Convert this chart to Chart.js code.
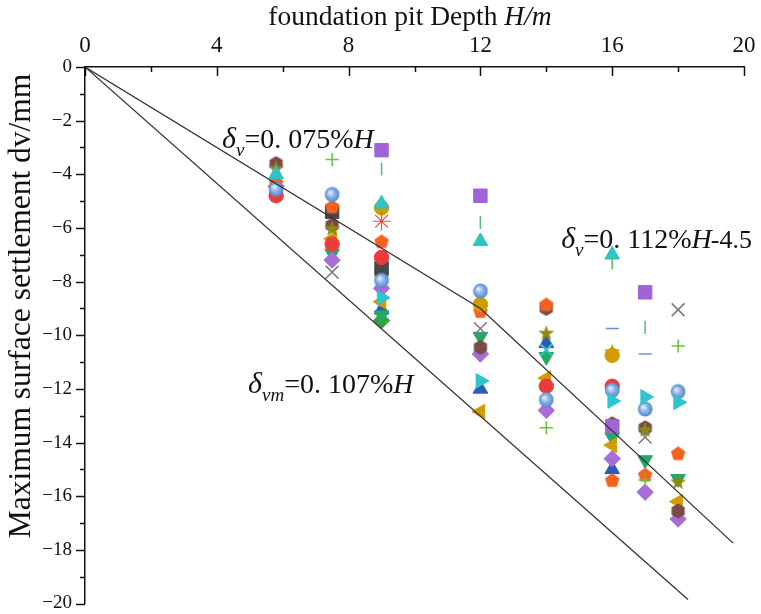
<!DOCTYPE html>
<html>
<head>
<meta charset="utf-8">
<script src="https://cdn.jsdelivr.net/npm/chart.js@4.4.0/dist/chart.umd.min.js"></script>
<style>
  html, body { margin: 0; padding: 0; background: #fff; }
</style>
</head>
<body>
<canvas id="settle" width="761" height="614"></canvas>
<script>
// excavation depth (m) vs maximum surface settlement (mm)
var xTicks = [0, 4, 8, 12, 16, 20];
var yTicks = [0, -2, -4, -6, -8, -10, -12, -14, -16, -18, -20];

var squarePurple = [[9, -3.1], [12, -4.8], [16, -13.4], [17, -8.4]];
var circleRed = [[5.8, -4.8], [7.5, -6.6], [9, -7.1], [14, -11.9], [16, -11.9]];
var triUpCyan = [[5.8, -4.0], [9, -5.1], [12, -6.5], [16, -7.0]];
var triDownGreen = [[7.5, -6.95], [9, -9.25], [12, -10.05], [14, -10.8], [16, -13.8], [17, -14.65], [18, -15.35]];
var diamondPurple = [[5.8, -4.45], [7.5, -7.2], [9, -8.25], [12, -10.7], [14, -12.8], [16, -14.6], [17, -15.85], [18, -16.85]];
var triLeftGold = [[7.5, -6.4], [9, -8.75], [12, -12.85], [14, -11.6], [16, -14.1], [18, -16.2]];
var triRightCyan = [[9, -8.6], [12, -11.7], [16, -12.45], [17, -12.3], [18, -12.5]];
var hexBrown = [[5.8, -3.6], [7.5, -5.9], [9, -7.7], [12, -10.45], [14, -9.0], [16, -13.3], [17, -13.45], [18, -16.55]];
var starOlive = [[5.8, -3.75], [7.5, -6.0], [14, -9.9], [16, -10.6], [17, -13.5], [18, -15.45]];
var pentOrange = [[5.8, -4.3], [7.5, -5.2], [9, -6.5], [12, -9.1], [14, -8.85], [16, -15.4], [17, -15.2], [18, -14.4]];
var sphereBlue = [[5.8, -4.55], [7.5, -4.75], [9, -7.95], [12, -8.35], [14, -12.4], [16, -12.05], [17, -12.75], [18, -12.1]];
var crossGray = [[7.5, -7.65], [12, -9.75], [17, -13.8], [18, -9.05]];
var plusGreen = [[7.5, -3.45], [14, -13.45], [17, -15.4], [18, -10.4]];
var dashBlue = [[16, -9.75], [17, -10.7]];
var barGreen = [[9, -3.8], [12, -5.8], [16, -7.3], [17, -9.7]];
var asteriskRed = [[9, -5.75]];
var squareDark = [[7.5, -5.4], [9, -7.5]];
var triUpBlue = [[9, -9.05], [12, -12.0], [14, -10.3], [16, -15.0]];
var circleGold = [[9, -5.25], [12, -8.85], [16, -10.75]];
var diamondGreen = [[9, -9.45]];
var crossCyan = [[14, -10.55]];

// fitted envelope lines
var lineUpper = [[0, 0], [12, -9], [19.67, -17.75]];
var lineLower = [[0, 0], [18.3, -19.85]];

function pts(a) {
  return a.map(function (p) { return { x: p[0], y: p[1] }; });
}

// small canvases for marker shapes chart.js does not have
function shape(kind, color) {
  var s = 18, c = document.createElement('canvas');
  c.width = s; c.height = s;
  var g = c.getContext('2d'), r = 7.6, cx = s / 2, cy = s / 2, i, a;
  g.fillStyle = color;
  g.beginPath();
  if (kind === 'hex') {
    for (i = 0; i < 6; i++) {
      a = -Math.PI / 2 + i * Math.PI / 3;
      g.lineTo(cx + r * Math.cos(a), cy + r * Math.sin(a));
    }
  } else if (kind === 'pent') {
    for (i = 0; i < 5; i++) {
      a = -Math.PI / 2 + i * 2 * Math.PI / 5;
      g.lineTo(cx + r * Math.cos(a), cy + 0.7 + r * Math.sin(a));
    }
  } else if (kind === 'star') {
    for (i = 0; i < 10; i++) {
      a = -Math.PI / 2 + i * Math.PI / 5;
      var rr = i % 2 ? r * 0.45 : r + 0.8;
      g.lineTo(cx + rr * Math.cos(a), cy + 0.9 + rr * Math.sin(a));
    }
  } else if (kind === 'sphere') {
    var grd = g.createRadialGradient(cx - 2.2, cy - 2.2, 0.5, cx, cy, r);
    grd.addColorStop(0, '#e6f0fb');
    grd.addColorStop(0.45, '#8fb6e6');
    grd.addColorStop(1, color);
    g.fillStyle = grd;
    g.arc(cx, cy, r - 0.2, 0, Math.PI * 2);
  }
  g.closePath();
  g.fill();
  return c;
}

function series(data, style, color, opt) {
  var d = {
    data: pts(data),
    pointStyle: style,
    pointRadius: 7,
    pointBackgroundColor: color,
    pointBorderColor: color,
    pointBorderWidth: 1,
    showLine: false
  };
  for (var k in (opt || {})) d[k] = opt[k];
  return d;
}

var datasets = [
  { data: pts(lineUpper), type: 'line', borderColor: '#333', borderWidth: 1.3, pointRadius: 0, fill: false, order: -1 },
  { data: pts(lineLower), type: 'line', borderColor: '#333', borderWidth: 1.3, pointRadius: 0, fill: false, order: -1 },
  series(plusGreen, 'cross', '#68c23a', { pointBorderWidth: 1.5, pointRadius: 6.5 }),
  series(crossGray, 'crossRot', '#7a7a7a', { pointBorderWidth: 1.5, pointRadius: 9 }),
  series(crossCyan, 'crossRot', '#31bfc2', { pointBorderWidth: 2.2, pointRadius: 8 }),
  series(dashBlue, 'line', '#6d8edc', { pointBorderWidth: 1.6, pointRadius: 6.5 }),
  series(barGreen, 'line', '#5bbf7c', { pointBorderWidth: 1.6, pointRadius: 6.5, pointRotation: 90 }),
  series(asteriskRed, 'star', '#f04848', { pointBorderWidth: 1.2, pointRadius: 9 }),
  series(squarePurple, 'rect', '#a064d8', { pointRadius: 9.5 }),
  series(triUpCyan, 'triangle', '#2ec3c6', { pointRadius: 8.5 }),
  series(triRightCyan, 'triangle', '#2cc6cc', { pointRadius: 8.5, pointRotation: 90 }),
  series(sphereBlue, shape('sphere', '#4f86d2'), '#4f86d2'),
  series(circleGold, 'circle', '#d29c00', { pointRadius: 7.2 }),
  series(pentOrange, shape('pent', '#f4621e'), '#f4621e'),
  series(starOlive, shape('star', '#8d8a12'), '#8d8a12'),
  series(circleRed, 'circle', '#ec3b3b', { pointRadius: 7.2 }),
  series(squareDark, 'rect', '#474747', { pointRadius: 9.5 }),
  series(hexBrown, shape('hex', '#7b4a47'), '#7b4a47'),
  series(triLeftGold, 'triangle', '#d29c00', { pointRadius: 8.5, pointRotation: 270 }),
  series(diamondPurple, 'rectRot', '#a66ed6', { pointRadius: 8.2 }),
  series(triDownGreen, 'triangle', '#24a865', { pointRadius: 8.5, pointRotation: 180 }),
  series(triUpBlue, 'triangle', '#2d5cb8', { pointRadius: 8.5 }),
  series(diamondGreen, 'rectRot', '#37a23a', { pointRadius: 8.2 })
];

// draw a run of text pieces with mixed style and subscripts
function richText(ctx, x, y, parts) {
  parts.forEach(function (p) {
    ctx.font = p.font;
    ctx.fillText(p.t, x, y + (p.dy || 0));
    x += ctx.measureText(p.t).width + (p.gap || 0);
  });
}

function measureRich(ctx, parts) {
  var w = 0;
  parts.forEach(function (p) { ctx.font = p.font; w += ctx.measureText(p.t).width + (p.gap || 0); });
  return w;
}

var SERIF = '"Liberation Serif", "Times New Roman", serif';

function eqParts(sub, rest, tail) {
  var parts = [
    { t: 'δ', font: 'italic 30px ' + SERIF },
    { t: sub, font: 'italic 19px ' + SERIF, dy: 8 },
    { t: rest, font: '28px ' + SERIF },
    { t: 'H', font: 'italic 28px ' + SERIF, gap: -1 }
  ];
  if (tail) parts.push({ t: tail, font: '26px ' + SERIF });
  return parts;
}

var annotations = [
  { x: 4.16, y: -3.02, parts: eqParts('v', '=0. 075%') },
  { x: 14.45, y: -6.75, parts: eqParts('v', '=0. 112%', '-4.5') },
  { x: 4.95, y: -12.16, parts: eqParts('vm', '=0. 107%') }
];

var axisDecor = {
  id: 'axisDecor',
  afterDraw: function (chart) {
    var ctx = chart.ctx, xs = chart.scales.x, ys = chart.scales.y;
    var top = ys.getPixelForValue(0), left = xs.getPixelForValue(0);
    var v, p, len;
    ctx.save();
    ctx.strokeStyle = '#111';
    ctx.lineWidth = 1.5;
    ctx.beginPath();
    // top axis ticks point down into the plot
    for (v = 0; v <= 20; v += 2) {
      p = Math.round(xs.getPixelForValue(v)) + 0.5;
      len = v % 4 === 0 ? 9 : 5;
      ctx.moveTo(p, top); ctx.lineTo(p, top + len);
    }
    // left axis ticks point outward
    for (v = 0; v >= -20; v -= 1) {
      p = Math.round(ys.getPixelForValue(v)) + 0.5;
      len = v % 2 === 0 ? 9 : 5;
      ctx.moveTo(left - len, p); ctx.lineTo(left, p);
    }
    ctx.stroke();

    ctx.fillStyle = '#111';
    ctx.textBaseline = 'alphabetic';

    // x axis title
    var xt = [
      { t: 'foundation pit Depth ', font: '27.5px ' + SERIF },
      { t: 'H/m', font: 'italic 27.5px ' + SERIF }
    ];
    richText(ctx, 410 - measureRich(ctx, xt) / 2, 25, xt);

    // y axis title
    ctx.save();
    ctx.translate(30, 306);
    ctx.rotate(-Math.PI / 2);
    ctx.font = '31.5px ' + SERIF;
    ctx.textAlign = 'center';
    ctx.fillText('Maximum surface settlement dv/mm', 0, 0);
    ctx.restore();

    // equation labels next to the lines
    annotations.forEach(function (a) {
      richText(ctx, xs.getPixelForValue(a.x), ys.getPixelForValue(a.y), a.parts);
    });
    ctx.restore();
  }
};

new Chart(document.getElementById('settle'), {
  type: 'scatter',
  data: { datasets: datasets },
  options: {
    responsive: false,
    animation: false,
    layout: { padding: { left: 0, right: 17, top: 0, bottom: 10 } },
    plugins: { legend: { display: false }, tooltip: { enabled: false } },
    scales: {
      x: {
        type: 'linear',
        position: 'top',
        min: 0, max: 20,
        afterFit: function (s) { s.height = 67; s.paddingLeft = 0; s.paddingRight = 0; },
        afterBuildTicks: function (s) { s.ticks = xTicks.map(function (v) { return { value: v }; }); },
        ticks: { color: '#111', padding: 7, maxRotation: 0, font: { family: SERIF, size: 23 } },
        grid: { display: true, drawOnChartArea: false, drawTicks: false },
        border: { display: true, color: '#111', width: 1.5 }
      },
      y: {
        type: 'linear',
        min: -20, max: 0,
        afterFit: function (s) { s.width = 85; s.paddingTop = 0; s.paddingBottom = 0; },
        afterBuildTicks: function (s) { s.ticks = yTicks.map(function (v) { return { value: v }; }); },
        ticks: {
          color: '#111', padding: 13, font: { family: SERIF, size: 19 },
          callback: function (v) { return String(v).replace('-', '\u2212'); }
        },
        grid: { display: true, drawOnChartArea: false, drawTicks: false },
        border: { display: true, color: '#111', width: 1.5 }
      }
    }
  },
  plugins: [axisDecor]
});
</script>
</body>
</html>
